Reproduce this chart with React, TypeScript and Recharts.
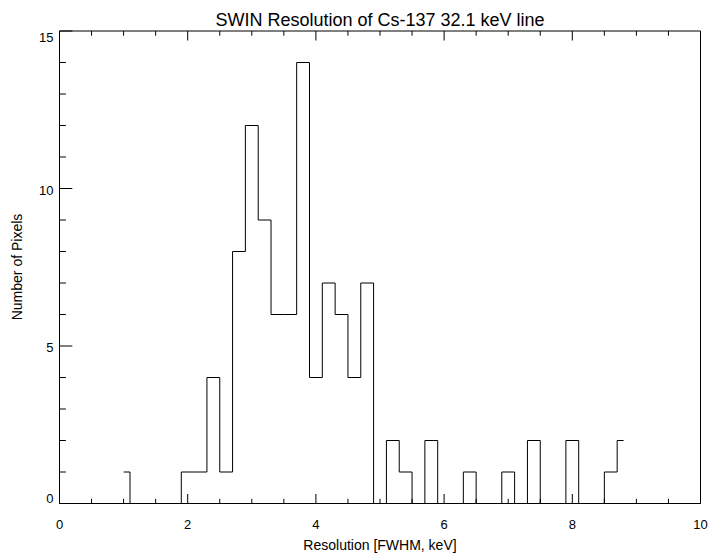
import { LineChart, Line, XAxis, YAxis } from 'recharts';

const binCenters = [
  1.0, 1.2, 1.4, 1.6, 1.8, 2.0, 2.2, 2.4, 2.6, 2.8,
  3.0, 3.2, 3.4, 3.6, 3.8, 4.0, 4.2, 4.4, 4.6, 4.8,
  5.0, 5.2, 5.4, 5.6, 5.8, 6.0, 6.2, 6.4, 6.6, 6.8,
  7.0, 7.2, 7.4, 7.6, 7.8, 8.0, 8.2, 8.4, 8.6, 8.8,
];
const pixelCounts = [
  1, 0, 0, 0, 0, 1, 1, 4, 1, 8,
  12, 9, 6, 6, 14, 4, 7, 6, 4, 7,
  0, 2, 1, 0, 2, 0, 0, 1, 0, 0,
  1, 0, 2, 0, 0, 2, 0, 0, 1, 2,
];
const xTicks = [0, 0.5, 1, 1.5, 2, 2.5, 3, 3.5, 4, 4.5, 5, 5.5, 6, 6.5, 7, 7.5, 8, 8.5, 9, 9.5, 10];
const xMajor = [0, 2, 4, 6, 8, 10];
const yTicks = [0, 1, 2, 3, 4, 5, 6, 7, 8, 9, 10, 11, 12, 13, 14, 15];
const yMajor = [0, 5, 10, 15];

const data = binCenters.map((x, i) => ({ x, count: pixelCounts[i] }));

const FONT = '"Liberation Sans", Arial, Helvetica, sans-serif';
const W = 709;
const H = 554;
// axes take 1px each, so the plot box is 59.5..700.5 x 31..503.5
const M = { top: 30, left: 58.5, right: 7.5, bottom: 49.5 };

function XTick({ x, y, payload, top }: any) {
  const major = xMajor.includes(payload.value);
  const len = major ? 9.5 : 4.7;
  return (
    <g>
      <line x1={x} x2={x} y1={y} y2={top ? y + len : y - len} stroke="#000" strokeWidth={1} />
      {!top && major && (
        <text x={x} y={y + 25.5} textAnchor="middle" fontSize={13} fontFamily={FONT} fill="#000">
          {payload.value}
        </text>
      )}
    </g>
  );
}

function YTick({ x, y, payload, right }: any) {
  const major = yMajor.includes(payload.value);
  const len = major ? 12.8 : 6.4;
  const v = payload.value;
  const baseline = v === 0 ? y - 0.5 : v === 15 ? y + 11 : y + 6;
  return (
    <g>
      <line x1={x} x2={right ? x - len : x + len} y1={y} y2={y} stroke="#000" strokeWidth={1} />
      {!right && major && (
        <text x={x - 6} y={baseline} textAnchor="end" fontSize={13} fontFamily={FONT} fill="#000">
          {v}
        </text>
      )}
    </g>
  );
}

export default function App() {
  return (
    <div style={{ position: 'absolute', left: 0, top: 0, width: W, height: H, background: '#fff' }}>
      <LineChart width={W} height={H} data={data} margin={M}>
        <XAxis
          dataKey="x" type="number" domain={[0, 10]} ticks={xTicks} interval={0}
          height={1} tickSize={0} tickMargin={0} tickLine={false}
          axisLine={{ stroke: '#000' }} tick={<XTick />}
        />
        <XAxis
          xAxisId="top" orientation="top" dataKey="x" type="number" domain={[0, 10]} ticks={xTicks} interval={0}
          height={1} tickSize={0} tickMargin={0} tickLine={false}
          axisLine={{ stroke: '#000' }} tick={<XTick top />}
        />
        <YAxis
          type="number" domain={[0, 15]} ticks={yTicks} interval={0}
          width={1} tickSize={0} tickMargin={0} tickLine={false}
          axisLine={{ stroke: '#000' }} tick={<YTick />}
        />
        <YAxis
          yAxisId="right" orientation="right" type="number" domain={[0, 15]} ticks={yTicks} interval={0}
          width={1} tickSize={0} tickMargin={0} tickLine={false}
          axisLine={{ stroke: '#000' }} tick={<YTick right />}
        />
        <Line
          type="step" dataKey="count" stroke="#000" strokeWidth={1}
          dot={false} activeDot={false} isAnimationActive={false}
        />
      </LineChart>
      <svg width={W} height={H} style={{ position: 'absolute', left: 0, top: 0, pointerEvents: 'none' }}>
        <text x={380} y={25.5} textAnchor="middle" fontSize={18} fontFamily={FONT} fill="#000">
          SWIN Resolution of Cs-137 32.1 keV line
        </text>
        <text x={380} y={550} textAnchor="middle" fontSize={14} fontFamily={FONT} fill="#000">
          Resolution [FWHM, keV]
        </text>
        <text
          x={22} y={267} textAnchor="middle" fontSize={14} fontFamily={FONT} fill="#000"
          transform="rotate(-90 22 267)"
        >
          Number of Pixels
        </text>
      </svg>
    </div>
  );
}
